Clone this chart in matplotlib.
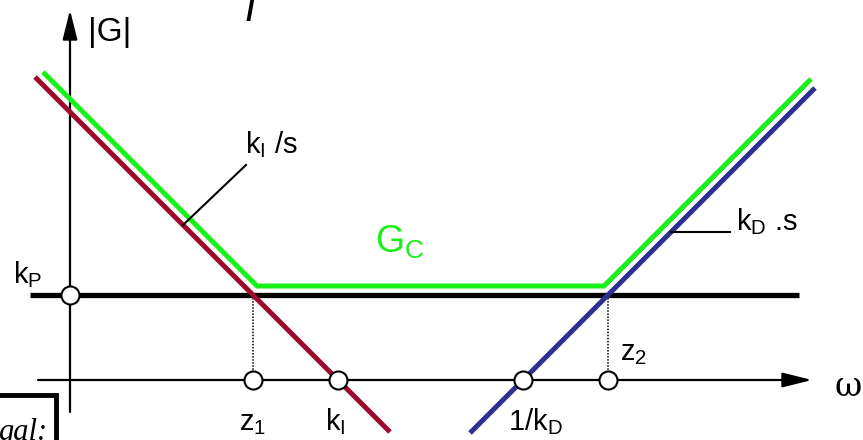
import numpy as np
import matplotlib
matplotlib.use("Agg")
import matplotlib.pyplot as plt

# Bode magnitude asymptotes of a PID controller (log-log units)
kp_level = 0.85          # log kP
ki_pos = 2.68            # log kI on the omega axis
kd_inv_pos = 4.53        # log 1/kD on the omega axis
z1 = ki_pos - kp_level   # first corner
z2 = kd_inv_pos + kp_level  # second corner

ki_x = [-0.35, 3.20]     # span of the kI/s asymptote
kd_x = [4.00, 7.45]      # span of the kD.s asymptote
kp_x = [-0.40, 7.29]     # span of the kP line
gc_x = [-0.27, 7.41]     # span of the Gc curve

plt.rcParams['font.family'] = ['Liberation Sans Narrow', 'Liberation Sans', 'DejaVu Sans']
plt.rcParams['mathtext.fontset'] = 'custom'
plt.rcParams['mathtext.rm'] = 'Liberation Sans'
plt.rcParams['mathtext.it'] = 'Liberation Sans'

RED = '#9e0a2e'
BLUE = '#2e3192'
GREEN = '#19f019'


def ki_line(x):
    return kp_level - (np.asarray(x) - z1)


def kd_line(x):
    return np.asarray(x) - kd_inv_pos


fig = plt.figure(figsize=(8.63, 4.40), dpi=100)
ax = fig.add_axes([0, 0, 1, 1])
ax.set_xlim(-0.70, 7.93)
ax.set_ylim(-0.60, 3.80)
ax.axis('off')

# axes with arrows
arrow = dict(arrowstyle='-|>,head_length=1.2,head_width=0.3', mutation_scale=15,
             lw=1.6, color='black', shrinkA=0, shrinkB=0)
ax.annotate('', xy=(0, 3.70), xytext=(0, -0.32), arrowprops=arrow)
ax.annotate('', xy=(7.42, 0), xytext=(-0.32, 0), arrowprops=arrow)

# kP line
ax.plot(kp_x, [kp_level, kp_level], color='black', lw=3.8, solid_capstyle='butt', zorder=2)

# asymptotes
ax.plot(ki_x, ki_line(ki_x), color=RED, lw=3.6, solid_capstyle='butt', zorder=3)
ax.plot(kd_x, kd_line(kd_x), color=BLUE, lw=3.6, solid_capstyle='butt', zorder=3)

# Gc curve drawn slightly above the asymptotes
flat_off, diag_off = 0.09, 0.13
gx = np.array([gc_x[0], z1 + diag_off - flat_off, z2 - diag_off + flat_off, gc_x[1]])
gy = np.array([ki_line(gx[0]) + diag_off, kp_level + flat_off,
               kp_level + flat_off, kd_line(gx[3]) + diag_off])
ax.plot(gx, gy, color=GREEN, lw=3.6, solid_capstyle='butt', solid_joinstyle='miter', zorder=3)

# dotted drop lines at the corners
for z in (z1, z2):
    ax.plot([z, z], [kp_level, 0.1], color='black', lw=1.1, ls=(0, (1, 1)), zorder=2)

# circle markers
circ = dict(marker='o', ms=13, mfc='white', mec='black', mew=1.5, ls='none', zorder=5)
ax.plot([0], [kp_level], **circ)
ax.plot([z1, ki_pos, kd_inv_pos, z2], [0, 0, 0, 0], **circ)

# leader lines
lx = 1.13
ax.plot([lx, 1.76], [ki_line(lx), 2.15], color='black', lw=1.5, zorder=4)
ly = 1.48
ax.plot([kd_inv_pos + ly, 6.60], [ly, ly], color='black', lw=1.5, zorder=4)

fs = 21
ax.text(0.18, 3.47, '|G|', fontsize=24, ha='left', va='center')
ax.text(-0.42, 1.05, r'$\mathregular{k_P}$', fontsize=fs, ha='center', va='center')
ax.text(z1, -0.43, r'$\mathregular{z_1}$', fontsize=fs, ha='center', va='center')
ax.text(ki_pos - 0.03, -0.42, r'$\mathregular{k_I}$', fontsize=fs, ha='center', va='center')
ax.text(kd_inv_pos + 0.12, -0.42, r'$\mathregular{1/k_D}$', fontsize=fs, ha='center', va='center')
ax.text(z2 + 0.12, 0.27, r'$\mathregular{z_2}$', fontsize=fs, ha='left', va='center')
ax.text(1.75, 2.35, r'$\mathregular{k_I}$ /s', fontsize=fs, ha='left', va='center')
ax.text(6.66, 1.58, r'$\mathregular{k_D}$ .s', fontsize=fs, ha='left', va='center')
ax.text(3.05, 1.38, r'$\mathregular{G_C}$', fontsize=27, color=GREEN, ha='left', va='center')
ax.text(7.78, -0.07, 'ω', fontsize=24, family='DejaVu Serif', ha='center', va='center')

# cropped fragments of the slide around the chart
ax.text(1.82, 3.80, 'f', fontsize=34, family='Liberation Serif', style='italic',
        ha='center', va='center')
ax.text(-0.22, -0.52, 'gal:', fontsize=22, family='Liberation Serif', style='italic',
        ha='right', va='center')
ax.plot([-0.75, -0.14, -0.14], [-0.15, -0.15, -0.65], color='black', lw=3.5,
        solid_joinstyle='miter', clip_on=False)

fig.savefig('out.png', dpi=100)
